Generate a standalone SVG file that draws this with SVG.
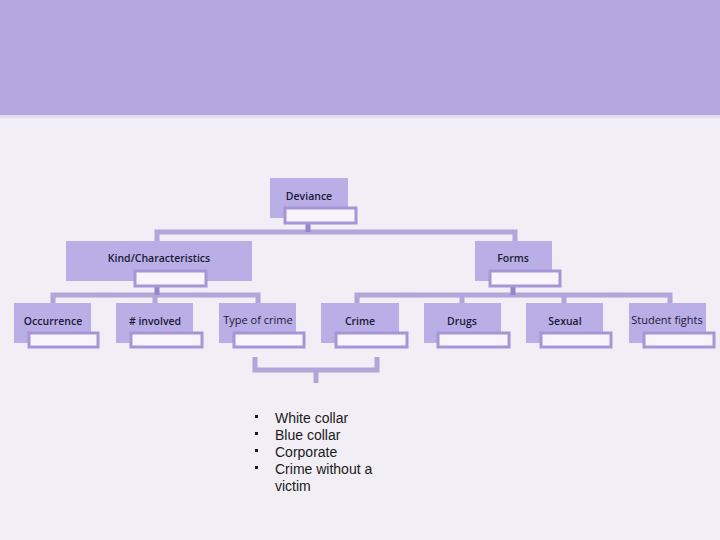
<svg xmlns="http://www.w3.org/2000/svg" width="720" height="540" viewBox="0 0 720 540">
<style>
.box{fill:#b9aee6}
.inner{fill:#f7f5fb;stroke:#a696d8;stroke-width:3}
.lbl{font-family:"Open Sans","Liberation Sans",sans-serif;font-size:10.5px;font-weight:600;fill:#1c1a36;text-anchor:middle}
.lbl.reg{font-weight:400;font-size:11px}
.ln{stroke:#a99dd6;stroke-width:5;fill:none;opacity:0.9}
.lnd{stroke:#9484cc;stroke-width:5;fill:none}
.bul{font-family:"Liberation Sans",Arial,sans-serif;font-size:14px;fill:#1a1a1a}
</style>
<rect x="0" y="0" width="720" height="540" fill="#f1eff5"/>
<rect x="0" y="0" width="720" height="115" fill="#b5a7de"/>
<rect x="0" y="115" width="720" height="3" fill="#e3e0ec"/>

<g id="connectors">
<path class="ln" d="M157 241 V232 H515 V241"/>
<path class="lnd" d="M308 224 V232"/>
<path class="ln" d="M53 303 V295 H258 V303 M155 295 V303"/>
<path class="lnd" d="M157 287 V295"/>
<path class="ln" d="M357 303 V295 H670 V303 M462 295 V303 M564 295 V303"/>
<path class="lnd" d="M513 287 V295"/>
<path class="ln" d="M255 357 V370 H377 V357 M316 370 V383"/>
</g>

<g id="deviance">
<rect class="box" x="270" y="178" width="78" height="40"/>
<rect class="inner" x="285" y="208" width="71" height="15"/>
<text class="lbl" x="309" y="200">Deviance</text>
</g>
<g id="kind">
<rect class="box" x="66" y="241" width="186" height="40"/>
<rect class="inner" x="135" y="271" width="71" height="15"/>
<text class="lbl" x="159" y="262">Kind/Characteristics</text>
</g>
<g id="forms">
<rect class="box" x="475" y="241" width="77" height="40"/>
<rect class="inner" x="490" y="271" width="70" height="15"/>
<text class="lbl" x="513" y="262">Forms</text>
</g>
<g id="occurrence">
<rect class="box" x="14" y="303" width="77" height="40"/>
<rect class="inner" x="29" y="333" width="69" height="14"/>
<text class="lbl" x="53" y="325">Occurrence</text>
</g>
<g id="involved">
<rect class="box" x="116" y="303" width="77" height="40"/>
<rect class="inner" x="131" y="333" width="71" height="14"/>
<text class="lbl" x="155" y="325"># involved</text>
</g>
<g id="typeofcrime">
<rect class="box" x="219" y="303" width="77" height="40"/>
<rect class="inner" x="234" y="333" width="70" height="14"/>
<text class="lbl reg" x="258" y="324">Type of crime</text>
</g>
<g id="crime">
<rect class="box" x="321" y="303" width="78" height="40"/>
<rect class="inner" x="336" y="333" width="71" height="14"/>
<text class="lbl" x="360" y="325">Crime</text>
</g>
<g id="drugs">
<rect class="box" x="424" y="303" width="77" height="40"/>
<rect class="inner" x="438" y="333" width="71" height="14"/>
<text class="lbl" x="462" y="325">Drugs</text>
</g>
<g id="sexual">
<rect class="box" x="526" y="303" width="77" height="40"/>
<rect class="inner" x="541" y="333" width="70" height="14"/>
<text class="lbl" x="565" y="325">Sexual</text>
</g>
<g id="studentfights">
<rect class="box" x="629" y="303" width="77" height="40"/>
<rect class="inner" x="644" y="333" width="70" height="14"/>
<text class="lbl reg" x="667" y="324">Student fights</text>
</g>

<g id="list">
<rect x="255" y="415" width="3" height="3" fill="#1a1a1a"/>
<rect x="255" y="432" width="3" height="3" fill="#1a1a1a"/>
<rect x="255" y="449" width="3" height="3" fill="#1a1a1a"/>
<rect x="255" y="466" width="3" height="3" fill="#1a1a1a"/>
<text class="bul" x="275" y="423">White collar</text>
<text class="bul" x="275" y="440">Blue collar</text>
<text class="bul" x="275" y="457">Corporate</text>
<text class="bul" x="275" y="474">Crime without a</text>
<text class="bul" x="275" y="491">victim</text>
</g>
</svg>
